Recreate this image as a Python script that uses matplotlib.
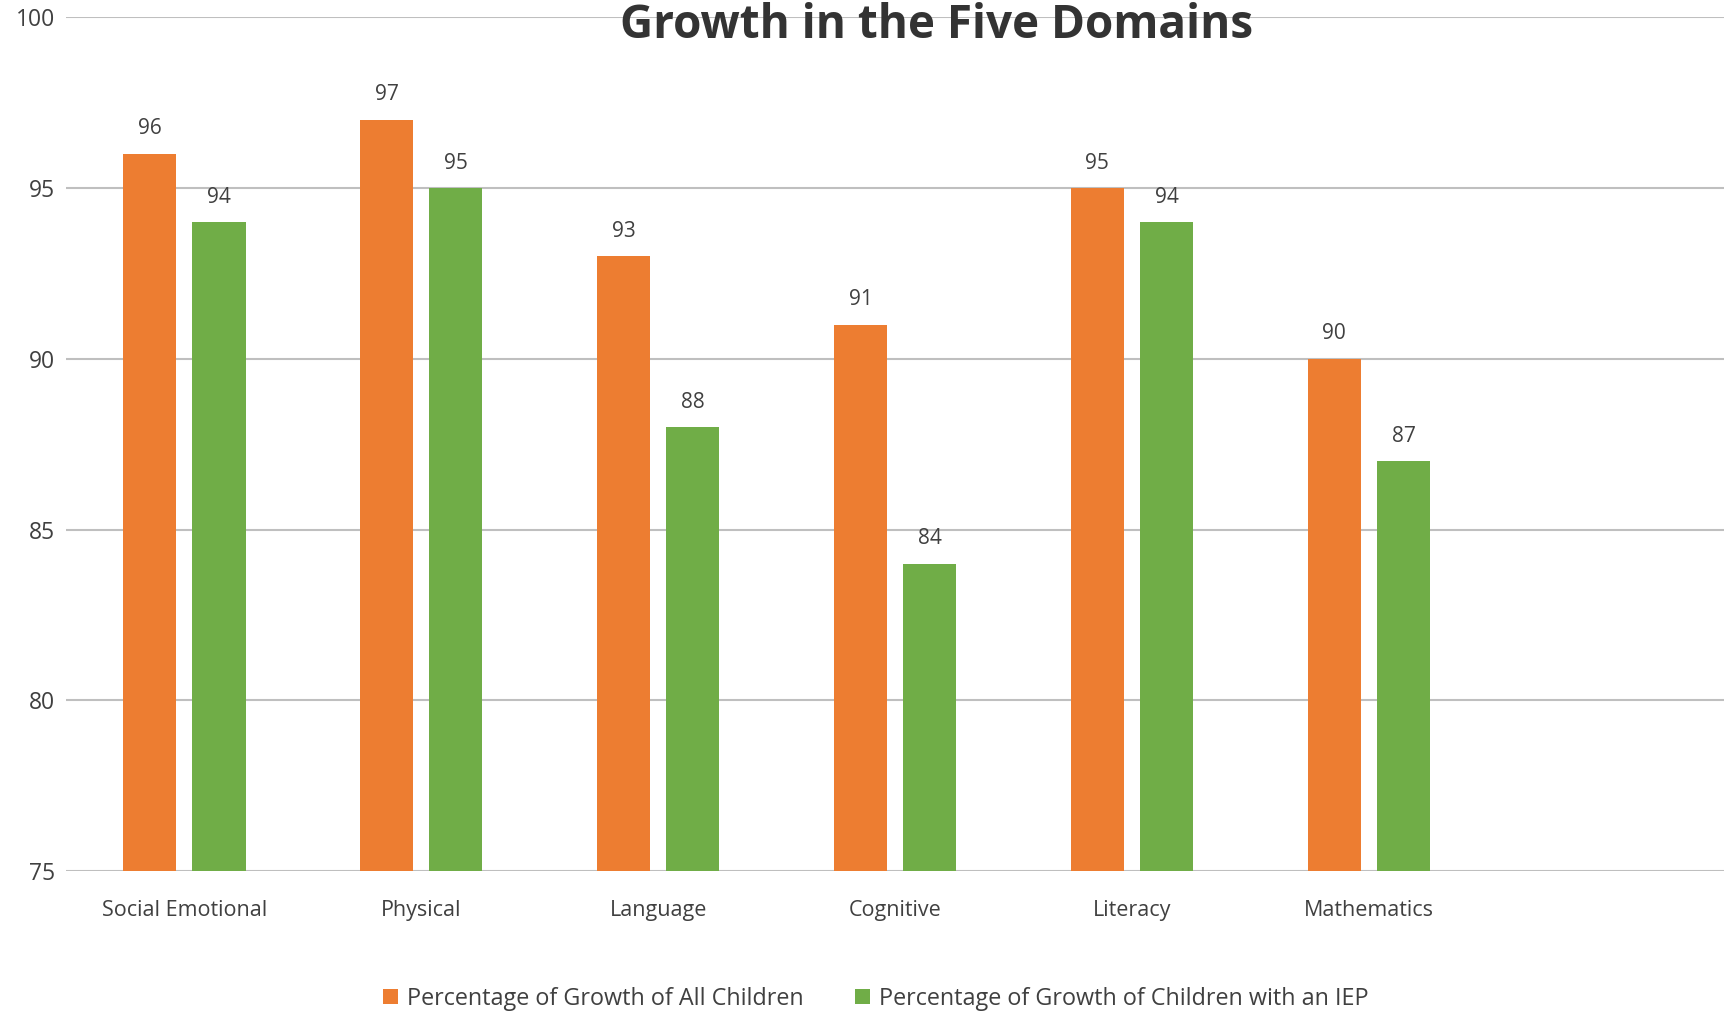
import numpy as np
from matplotlib import pyplot as plt

categories = ['Social Emotional', 'Physical', 'Language', 'Cognitive', 'Literacy', 'Mathematics', '']
all_children = [96, 97, 93, 91, 95, 90]
iep_children = [94, 95, 88, 84, 94, 87]
series_names = ['Percentage of Growth of All Children',
                'Percentage of Growth of Children with an IEP']
yticks = [75, 80, 85, 90, 95, 100]

ORANGE = '#ED7D31'
GREEN = '#70AD47'
TEXT = '#404040'
GRID = '#BFBFBF'

plt.rcParams['font.family'] = ['Open Sans', 'DejaVu Sans']

fig = plt.figure(figsize=(17.31, 10.13), dpi=100)
ax = fig.add_axes([0.0381, 0.140, 0.958, 0.843])

x = np.arange(len(all_children))
w = 0.224
off = 0.146
b1 = ax.bar(x - off, np.array(all_children) - 75, w, bottom=75, color=ORANGE,
            linewidth=0, label=series_names[0], zorder=3)
b2 = ax.bar(x + off, np.array(iep_children) - 75, w, bottom=75, color=GREEN,
            linewidth=0, label=series_names[1], zorder=3)

for xs, vals in ((x - off, all_children), (x + off, iep_children)):
    for xi, v in zip(xs, vals):
        ax.annotate(str(v), (xi, v), xytext=(0, 18), textcoords='offset points',
                    ha='center', va='center', fontsize=15, color=TEXT)

ax.set_xlim(-0.5, len(categories) - 0.5)
ax.set_ylim(75, 100)
ax.set_yticks(yticks)
ax.set_xticks(np.arange(len(categories)))
ax.set_xticklabels(categories)
ax.yaxis.grid(True, color=GRID, linewidth=1.5, zorder=0)
for s in ax.spines.values():
    s.set_visible(False)
ax.tick_params(axis='both', length=0, labelsize=15.5, colors=TEXT)
ax.tick_params(axis='y', labelsize=16.5)
ax.tick_params(axis='x', pad=21)
ax.tick_params(axis='y', pad=8)

fig.text(0.541, 0.975, 'Growth in the Five Domains', ha='center', va='center',
         fontsize=33, fontweight='bold', color='#333333')

fig.legend(handles=[b1, b2], loc='center', bbox_to_anchor=(0.506, 0.014), ncol=2,
           frameon=False, fontsize=16.8, labelcolor=TEXT, handlelength=0.62,
           handleheight=0.62, handletextpad=0.4, columnspacing=2.2)

fig.savefig('out.png', dpi=100)
